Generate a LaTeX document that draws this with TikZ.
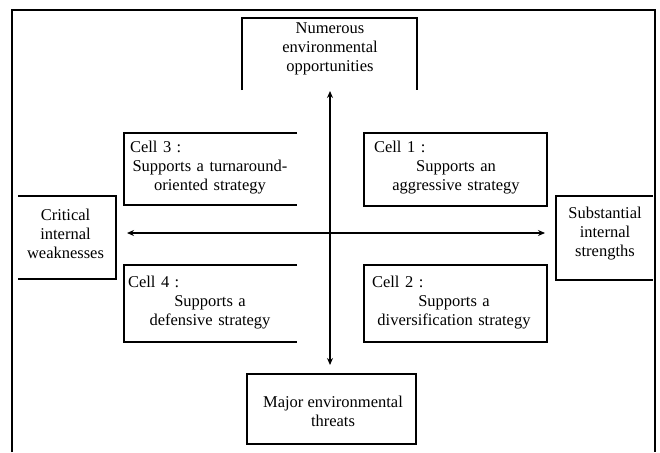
\documentclass[tikz,border=0pt]{standalone}
\usepackage{fontspec}
\setmainfont{Liberation Serif}
\usetikzlibrary{arrows.meta}
\begin{document}
\begin{tikzpicture}[x=1pt,y=-1pt,
  frame/.style={line width=2.4pt},
  boxline/.style={line width=1.2pt},
  area/.style={draw=none,inner sep=0pt,outer sep=0pt},
  lbl/.style={align=center,inner sep=0pt,font=\fontsize{16.5}{19}\selectfont},
  celltext/.style={lbl,text width=168pt},
  axis/.style={line width=1.3pt,{Stealth[length=7pt,width=6pt]}-{Stealth[length=7pt,width=6pt]}}
]
\useasboundingbox (0,0) rectangle (660,452);
% outer frame (open at bottom)
\draw[frame] (12,452) -- (12,10) -- (655,10) -- (655,452);

% boxes (named areas)
\node[area,minimum width=175pt,minimum height=72pt] (top) at (329.5,54) {};
\node[area,minimum width=169pt,minimum height=70pt] (major) at (331.5,409) {};
\node[area,minimum width=98pt,minimum height=83pt] (crit) at (67,237.5) {};
\node[area,minimum width=97pt,minimum height=84pt] (subst) at (604.5,238) {};
\node[area,minimum width=173pt,minimum height=72pt] (c3) at (210.5,169) {};
\node[area,minimum width=183pt,minimum height=73pt] (c1) at (455.5,169.5) {};
\node[area,minimum width=173pt,minimum height=77pt] (c4) at (210.5,303.5) {};
\node[area,minimum width=183pt,minimum height=77pt] (c2) at (455.5,303.5) {};

% borders
\draw[boxline] (top.south west) |- (top.north east) -- (top.south east);
\draw[boxline] (major.south west) rectangle (major.north east);
\draw[boxline] (crit.north west) -| (crit.south east) -- (crit.south west);
\draw[boxline] (subst.north east) -| (subst.south west) -- (subst.south east);
\draw[boxline] (c3.north east) -| (c3.south west) -- (c3.south east);
\draw[boxline] (c4.north east) -| (c4.south west) -- (c4.south east);
\draw[boxline] (c1.south west) rectangle (c1.north east);
\draw[boxline] (c2.south west) rectangle (c2.north east);

% texts
\node[lbl] (topt) at (330,49) {Numerous\\environmental\\opportunities};
\node[lbl] (majort) at (333,411) {Major environmental\\threats};
\node[lbl] (critt) at (65.5,234) {Critical\\internal\\weaknesses};
\node[lbl] (substt) at (605,234) {Substantial\\internal\\strengths};
\node[celltext] (c3t) at (210,168) {\makebox[168pt][l]{\hspace{4pt}Cell 3 :}\\Supports a turnaround-\\oriented strategy};
\node[celltext] (c1t) at (456,168) {\makebox[168pt][l]{\hspace{2pt}Cell 1 :}\\Supports an\\aggressive strategy};
\node[celltext] (c4t) at (210,303) {\makebox[168pt][l]{\hspace{2pt}Cell 4 :}\\Supports a\\defensive strategy};
\node[celltext] (c2t) at (454,303) {\makebox[168pt][l]{\hspace{2pt}Cell 2 :}\\Supports a\\diversification strategy};

% axes
\coordinate (cross) at (330,233);
\draw[axis] ([yshift=-1pt]top.south -| cross) -- ([yshift=9pt]major.north -| cross);
\draw[axis] ([xshift=11pt]crit.east |- cross) -- ([xshift=-11pt]subst.west |- cross);
\end{tikzpicture}
\end{document}
